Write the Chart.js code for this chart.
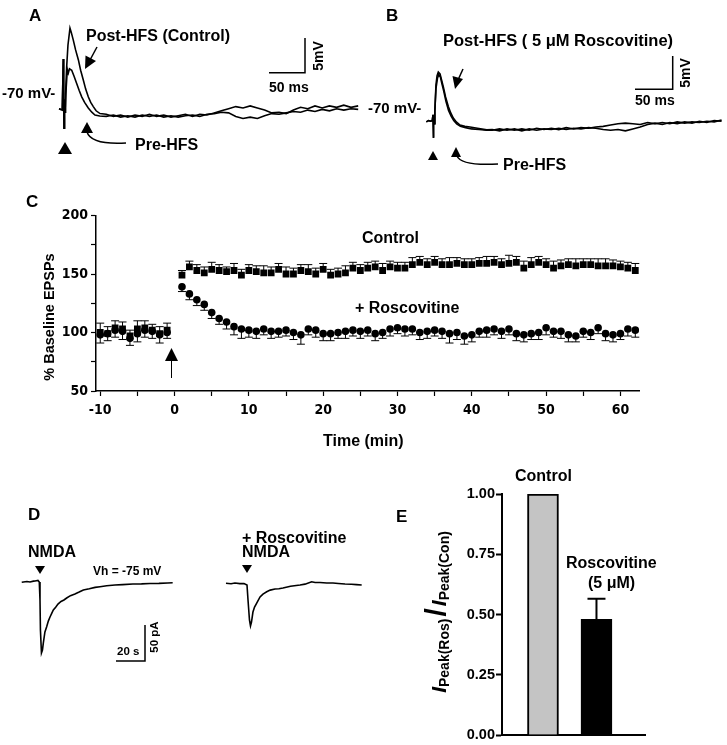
<!DOCTYPE html>
<html>
<head>
<meta charset="utf-8">
<script src="https://cdn.jsdelivr.net/npm/chart.js@4.4.0/dist/chart.umd.min.js"></script>
<style>
body{margin:0;background:#fff;}
#fig{position:relative;width:727px;height:745px;overflow:hidden;background:#fff;}
canvas{position:absolute;}
.t{position:absolute;font-family:"Liberation Sans",Arial,sans-serif;font-weight:bold;white-space:nowrap;line-height:1;color:#000;}
.rot{transform:translate(-50%,-50%) rotate(-90deg);}
svg{position:absolute;left:0;top:0;}
</style>
</head>
<body>
<div id="fig">
<canvas id="trA" width="307" height="125" style="left:55px;top:15px"></canvas>
<canvas id="trB" width="307" height="90" style="left:420px;top:55px"></canvas>
<canvas id="chC" width="660" height="270" style="left:0px;top:180px"></canvas>
<canvas id="trD1" width="165" height="95" style="left:15px;top:570px"></canvas>
<canvas id="trD2" width="150" height="95" style="left:220px;top:570px"></canvas>
<canvas id="chE" width="287" height="285" style="left:440px;top:460px"></canvas>

<svg width="727" height="745">
  <!-- A -->
  <line x1="97" y1="47" x2="90" y2="60" stroke="#000" stroke-width="1.5"/>
  <polygon points="85,69 96,61 85.5,55.5" fill="#000"/>
  <polygon points="58,154 72,154 65,142" fill="#000"/>
  <polygon points="87,122 81,133 93,133" fill="#000"/>
  <path d="M87 132 Q91 145 126 143" fill="none" stroke="#000" stroke-width="1.5"/>
  <path d="M305 38 V72.7 H269" fill="none" stroke="#000" stroke-width="1.5"/>
  <!-- B -->
  <line x1="463" y1="69" x2="458" y2="80" stroke="#000" stroke-width="1.5"/>
  <polygon points="455,89 463,79 452.5,76" fill="#000"/>
  <polygon points="428,160 438,160 433,151" fill="#000"/>
  <polygon points="456,147 451,157 461,157" fill="#000"/>
  <path d="M457 156 Q461 166 498 164" fill="none" stroke="#000" stroke-width="1.5"/>
  <path d="M672.7 56 V89.3 H635" fill="none" stroke="#000" stroke-width="1.5"/>
  <!-- C -->
  <polygon points="171.5,348 165,361 178,361" fill="#000"/>
  <line x1="171.5" y1="360" x2="171.5" y2="378" stroke="#000" stroke-width="1"/>
  <!-- D -->
  <polygon points="35,566 45,566 40,574" fill="#000"/>
  <polygon points="242,565 252,565 247,573" fill="#000"/>
  <path d="M145 625 V661 H116" fill="none" stroke="#000" stroke-width="1.5"/>
</svg>

<div class="t" style="left:29px;top:7px;font-size:17px">A</div>
<div class="t" style="left:86px;top:28px;font-size:16px">Post-HFS (Control)</div>
<div class="t" style="left:2px;top:85px;font-size:15px">-70 mV-</div>
<div class="t" style="left:269px;top:80px;font-size:14px">50 ms</div>
<div class="t rot" style="left:318px;top:56px;font-size:14px">5mV</div>
<div class="t" style="left:135px;top:137px;font-size:16px">Pre-HFS</div>

<div class="t" style="left:386px;top:7px;font-size:17px">B</div>
<div class="t" style="left:443px;top:32px;font-size:16.5px">Post-HFS ( 5 μM Roscovitine)</div>
<div class="t" style="left:368px;top:100px;font-size:15px">-70 mV-</div>
<div class="t" style="left:635px;top:93px;font-size:14px">50 ms</div>
<div class="t rot" style="left:685px;top:73px;font-size:14px">5mV</div>
<div class="t" style="left:503px;top:157px;font-size:16px">Pre-HFS</div>

<div class="t" style="left:26px;top:193px;font-size:17px">C</div>
<div class="t" style="left:362px;top:230px;font-size:16px">Control</div>
<div class="t" style="left:355px;top:300px;font-size:16px">+ Roscovitine</div>
<div class="t" style="left:323px;top:433px;font-size:16px">Time (min)</div>
<div class="t rot" style="left:49px;top:317px;font-size:14.5px">% Baseline EPSPs</div>

<div class="t" style="left:28px;top:506px;font-size:17px">D</div>
<div class="t" style="left:28px;top:544px;font-size:16px">NMDA</div>
<div class="t" style="left:93px;top:565px;font-size:12px">Vh = -75 mV</div>
<div class="t" style="left:117px;top:646px;font-size:11.5px">20 s</div>
<div class="t rot" style="left:155px;top:637px;font-size:11.5px">50 pA</div>
<div class="t" style="left:242px;top:530px;font-size:16px">+ Roscovitine</div>
<div class="t" style="left:242px;top:544px;font-size:16px">NMDA</div>

<div class="t" style="left:396px;top:508px;font-size:17px">E</div>
<div class="t" style="left:515px;top:468px;font-size:16px">Control</div>
<div class="t" style="left:566px;top:555px;font-size:16px">Roscovitine</div>
<div class="t" style="left:588px;top:575px;font-size:16px">(5 μM)</div>
<div class="t rot" style="left:436px;top:612px;font-size:14px"><i style="font-size:21px">I</i><span style="position:relative;top:3px">Peak(Ros)</span><span style="font-size:30px;margin:0 2px">/</span><i style="font-size:21px">I</i><span style="position:relative;top:3px">Peak(Con)</span></div>
</div>

<script>
// ---- panel A traces (ms, mV relative to -70 mV) ----
const aPostT = [-5.5, -3, -1, 0, 0.4, 0.9, 1.4, 2.1, 2.8, 3.6, 5.1, 6.9, 9.7, 11.5, 14.3, 17.5, 21.3, 24.5, 28.2, 31.5, 35.1, 38.5, 42.1, 46, 51.4,
  60, 70, 80, 90, 100, 110, 120, 130, 140, 150, 160, 170, 180, 190, 200, 210, 220, 230, 240, 250, 260, 270, 280, 290, 300, 310, 320, 330, 340, 350, 360, 370, 380, 390, 400, 410];
const aPostV = [0.9, 0.8, 0.7, 0.7, 8.0, 2.0, -1.9, 2.2, 0.4, 3.0, 6.9, 10.0, 12.4, 11.8, 10.7, 9.3, 7.9, 6.4, 5.0, 3.7, 2.6, 1.8, 1.2, 0.6, 0.2,
  0.1, -0.2, 0.0, -0.3, 0.0, -0.2, 0.1, -0.2, 0.0, -0.3, -0.1, 0.1, -0.2, 0.1, 0.0, 0.3, 0.6, 0.9, 1.2, 1.0, 1.3, 1.0, 0.7, 0.3, 0.4, 0.2, 0.7, 1.1, 0.9, 1.3, 1.0, 1.3, 1.1, 1.4, 1.1, 1.3];
const aPreT = [-5.5, -3, -1, 0, 0.4, 0.9, 1.4, 2.1, 2.8, 4.5, 6, 7.4, 9, 12.1, 15.5, 19, 22.5, 26, 30, 35.1, 40, 44.4, 51,
  60, 70, 80, 90, 100, 110, 120, 130, 140, 150, 160, 170, 180, 190, 200, 210, 220, 230, 240, 250, 260, 270, 280, 290, 300, 310, 320, 330, 340, 350, 360, 370, 380, 390, 400, 410];
const aPreV = [0.9, 0.8, 0.7, 0.7, 8.0, 2.0, -1.9, 2.2, 0.4, 4.0, 6.5, 6.0, 6.6, 6.4, 5.5, 4.5, 3.5, 2.6, 1.8, 1.0, 0.4, 0.0, -0.15,
  -0.2, 0.0, -0.3, -0.1, -0.3, 0.0, -0.2, 0.0, -0.3, -0.1, -0.3, -0.1, 0.0, -0.2, 0.1, 0.2, 0.4, 0.3, -0.2, -0.5, -0.3, -0.5, -0.1, 0.2, 0.1, 0.3, 0.5, 0.4, 0.7, 0.5, 0.8, 0.6, 0.9, 0.7, 0.9, 0.8];

// ---- panel B traces ----
const bPostT = [-9, -6, -3.5, -1, 0, 0.4, 1.0, 1.6, 2.5, 4, 5.5, 7.2, 9.5, 11.5, 13.9, 17, 20.7, 24, 27.4, 31.5, 36.5, 43, 50, 60, 72.6,
  80, 90, 100, 110, 120, 130, 140, 150, 160, 170, 180, 190, 200, 210, 220, 230, 240, 250, 260, 270, 280, 290, 300, 310, 320, 330, 340, 350, 360, 370, 380, 390];
const bPostV = [0.8, 1.0, 0.9, 1.0, 1.9, -1.7, 1.4, 0.5, 2.5, 6.6, 8.0, 8.6, 8.3, 7.4, 6.3, 4.7, 3.2, 2.2, 1.4, 0.8, 0.3, 0.1, 0.0, -0.2, -0.45,
  -0.4, -0.6, -0.3, -0.5, -0.3, -0.5, -0.2, -0.4, -0.2, -0.4, -0.1, -0.3, -0.1, -0.2, 0.0, 0.1, 0.3, 0.5, 0.6, 0.5, 0.4, 0.7, 0.5, 0.7, 0.5, 0.8, 0.6, 0.8, 0.7, 0.9, 0.8, 1.1];
const bPreT = [-9, -6, -3.5, -1, 0, 0.4, 1.0, 1.6, 2.5, 4, 6, 7.8, 10, 12, 14.5, 17.5, 21, 24.5, 28, 32, 37, 44, 52, 62, 72.6,
  80, 90, 100, 110, 120, 130, 140, 150, 160, 170, 180, 190, 200, 210, 220, 230, 240, 250, 260, 270, 280, 290, 300, 310, 320, 330, 340, 350, 360, 370, 380, 390];
const bPreV = [0.8, 1.0, 0.9, 1.0, 1.9, -1.7, 1.4, 0.5, 2.5, 6.0, 7.6, 8.2, 7.8, 6.8, 5.6, 4.0, 2.6, 1.7, 1.0, 0.5, 0.1, -0.1, -0.3, -0.4, -0.5,
  -0.5, -0.3, -0.5, -0.3, -0.6, -0.3, -0.5, -0.3, -0.4, -0.2, -0.4, -0.2, -0.3, -0.1, -0.2, -0.4, -0.5, -0.4, -0.6, -0.3, 0.0, 0.4, 0.6, 0.4, 0.7, 0.5, 0.8, 0.6, 0.9, 0.7, 1.0, 0.9];

// ---- panel C: % baseline EPSPs (min) ----
const baseTimes = [-10, -9, -8, -7, -6, -5, -4, -3, -2, -1];
const postTimes = [1, 2, 3, 4, 5, 6, 7, 8, 9, 10, 11, 12, 13, 14, 15, 16, 17, 18, 19, 20, 21, 22, 23, 24, 25, 26, 27, 28, 29, 30,
  31, 32, 33, 34, 35, 36, 37, 38, 39, 40, 41, 42, 43, 44, 45, 46, 47, 48, 49, 50, 51, 52, 53, 54, 55, 56, 57, 58, 59, 60, 61, 62];
const ctlBase = [100, 99, 104, 103, 97, 103, 104, 102, 99, 102];
const ctlPost = [149, 156, 153, 151, 154, 153, 152, 153, 149, 153, 152, 151, 151, 154, 150, 150, 153, 152, 150, 154,
  149, 150, 151, 155, 153, 155, 156, 153, 156, 155, 155, 158, 160, 158, 160, 158, 158, 159, 158,
  158, 159, 159, 160, 158, 159, 160, 155, 158, 160, 158, 155, 157, 158, 157, 158, 158, 157, 157, 157, 156, 155, 153];
const ctlBaseErr = [8, 6, 6, 6, 5, 7, 6, 5, 6, 6];
const ctlPostErr = [4, 5, 5, 5, 6, 5, 4, 6, 5, 5, 5, 6, 5, 5, 6, 5, 5, 6, 5, 5, 5, 5, 6, 5, 5, 5, 5, 6, 5, 5,
  5, 6, 5, 5, 5, 5, 6, 5, 5, 5, 5, 6, 5, 5, 7, 5, 6, 6, 5, 5, 6, 5, 5, 6, 5, 5, 6, 6, 5, 5, 5, 6];
const rosBase = [98, 99, 102, 101, 95, 99, 102, 101, 98, 100];
const rosPost = [139, 133, 128, 124, 117, 112, 109, 105, 103, 102, 101, 103, 101, 101, 102, 100, 98, 103, 102, 99,
  99, 100, 101, 102, 101, 102, 99, 100, 103, 104, 103, 103, 100, 101, 102, 101, 99, 100, 97,
  98, 101, 102, 103, 101, 103, 99, 98, 99, 100, 104, 101, 101, 98, 97, 101, 100, 104, 99, 98, 99, 103, 102];
const rosBaseErr = [7, 6, 6, 7, 6, 7, 6, 6, 7, 5];
const rosPostErr = [4, 5, 5, 5, 5, 5, 6, 7, 8, 6, 6, 5, 6, 5, 5, 6, 8, 5, 6, 6, 6, 5, 6, 5, 6, 5, 6, 5, 6, 5,
  6, 5, 6, 6, 5, 6, 8, 6, 7, 6, 5, 6, 5, 6, 5, 6, 6, 5, 6, 6, 5, 6, 6, 5, 5, 6, 5, 6, 6, 5, 6, 6];
const cYTicks = [50, 75, 100, 125, 150, 175, 200];
const cXTicks = [-10, -5, 0, 5, 10, 15, 20, 25, 30, 35, 40, 45, 50, 55, 60];

// ---- panel D traces (s, pA) ----
const d1T = [-12.6, -9, -6.9, -4.5, -3.4, -1.4, -0.5, 0, 0.3, 1.0, 1.7, 2.3, 3.4, 4.6, 5.8, 6.9, 8, 9.2, 10.8, 12.4,
  14.5, 16.5, 18.4, 21, 24.1, 27, 29.9, 34, 38, 41.4, 46, 51.7, 57, 64.1, 70, 75.9, 82, 88, 91.5];
const d1V = [-0.4, 0.6, 0, 1.2, 1.4, 2.1, 0, -25, -66.7, -98.6, -94.4, -84.7, -69.4, -62.1, -54, -48.6, -44, -38.9, -35, -30.6,
  -27, -25, -22.2, -19, -16.7, -14, -11.1, -9.5, -7.5, -6.5, -5.2, -4.2, -3.6, -2.8, -2.6, -2.1, -1.9, -1.3, -1.0];
const d2T = [-14.5, -11, -8.3, -5, -2.1, 0, 0.7, 1.7, 2.4, 3.1, 4.1, 5.2, 6.7, 9, 11, 13.6, 16, 19.3, 22, 24.8,
  30, 36.6, 40, 44.6, 47, 50.3, 55, 59.3, 63, 67.6, 72, 75.5, 79.1];
const d2V = [0, -0.7, 0.4, -0.4, -0.3, -2.4, -23.2, -51, -59.3, -53.8, -39.9, -33, -27.4, -19, -15, -11.7, -9.5, -7.9, -7.5, -6.5,
  -4, -2.4, -1.2, 2.2, 1.2, 1.1, 0.5, 0.4, -0.3, -1, -1.4, -1.8, -2.4];

// ---- panel E: normalised peak current ----
const eGroups = ['Control', 'Roscovitine (5 μM)'];
const eValues = [1.0, 0.48];
const eErr = [0, 0.085];
const eYTicks = [0, 0.25, 0.5, 0.75, 1.0];

const narrow = '"Liberation Sans Narrow", "DejaVu Sans Condensed", sans-serif';
const sans = '"Liberation Sans", Arial, sans-serif';

// error bars drawn from each dataset's errUp / errDown arrays
const errorBars = {
  id: 'errorBars',
  afterDatasetsDraw(chart) {
    const ctx = chart.ctx;
    const ys = chart.scales.y;
    chart.data.datasets.forEach((ds, di) => {
      if (!ds.errUp && !ds.errDown) return;
      const meta = chart.getDatasetMeta(di);
      ctx.save();
      ctx.strokeStyle = '#000';
      ctx.lineWidth = ds.errWidth || 1;
      meta.data.forEach((el, i) => {
        const v = ds.data[i].y;
        const half = (ds.capWidth || 8) / 2;
        [[ds.errUp, 1], [ds.errDown, -1]].forEach(([arr, sgn]) => {
          if (!arr || !arr[i]) return;
          const y0 = ys.getPixelForValue(v);
          const y1 = ys.getPixelForValue(v + sgn * arr[i]);
          ctx.beginPath();
          ctx.moveTo(el.x, y0);
          ctx.lineTo(el.x, y1);
          ctx.moveTo(el.x - half, y1);
          ctx.lineTo(el.x + half, y1);
          ctx.stroke();
        });
      });
      ctx.restore();
    });
  }
};

function pts(xs, ys) {
  return xs.map((x, i) => ({ x: x, y: ys[i] }));
}

function trace(id, sets, xr, yr) {
  new Chart(document.getElementById(id), {
    type: 'scatter',
    data: {
      datasets: sets.map(s => ({
        data: pts(s[0], s[1]),
        showLine: true,
        borderColor: '#000',
        borderWidth: 1.6,
        pointRadius: 0,
        tension: 0
      }))
    },
    options: {
      responsive: false, animation: false, events: [],
      plugins: { legend: { display: false }, tooltip: { enabled: false } },
      scales: {
        x: { type: 'linear', display: false, min: xr[0], max: xr[1] },
        y: { display: false, min: yr[0], max: yr[1] }
      }
    }
  });
}

trace('trA', [[aPostT, aPostV], [aPreT, aPreV]], [-11.11, 415.3], [-3.571, 14.286]);
trace('trB', [[bPostT, bPostV], [bPreT, bPreV]], [-17.57, 397.3], [-2.8125, 11.25]);
trace('trD1', [[d1T, d1V]], [-17.24, 96.55], [-115.3, 16.67]);
trace('trD2', [[d2T, d2V]], [-18.62, 84.83], [-113.5, 18.47]);

// panel C
new Chart(document.getElementById('chC'), {
  type: 'scatter',
  data: {
    datasets: [
      {
        label: 'Control',
        data: pts(baseTimes.concat(postTimes), ctlBase.concat(ctlPost)),
        errUp: ctlBaseErr.concat(ctlPostErr),
        pointStyle: 'rect', pointRadius: 4.8,
        backgroundColor: '#000', borderColor: '#000', borderWidth: 0
      },
      {
        label: '+ Roscovitine',
        data: pts(baseTimes.concat(postTimes), rosBase.concat(rosPost)),
        errDown: rosBaseErr.concat(rosPostErr),
        pointStyle: 'circle', pointRadius: 3.8,
        backgroundColor: '#000', borderColor: '#000', borderWidth: 0
      }
    ]
  },
  options: {
    responsive: false, animation: false, events: [],
    layout: { padding: { top: 35.5, right: 21, left: 0, bottom: 0 } },
    plugins: { legend: { display: false }, tooltip: { enabled: false } },
    scales: {
      x: {
        type: 'linear', min: -10.57, max: 62.5,
        afterBuildTicks: s => { s.ticks = cXTicks.map(v => ({ value: v })); },
        afterFit: s => { s.height = 59; },
        ticks: {
          autoSkip: false, maxRotation: 0, padding: 6, color: '#000',
          font: { family: narrow, weight: 'bold', size: 14 },
          callback: v => (v % 10 === 0 ? String(v) : '')
        },
        grid: { drawOnChartArea: false, tickLength: 5, tickColor: '#000', tickWidth: 1.2 },
        border: { color: '#000', width: 1.5 }
      },
      y: {
        min: 50, max: 200,
        afterBuildTicks: s => { s.ticks = cYTicks.map(v => ({ value: v })); },
        afterFit: s => { s.width = 96; },
        ticks: {
          padding: 3, color: '#000',
          font: { family: narrow, weight: 'bold', size: 14 },
          callback: v => (v % 50 === 0 ? String(v) : '')
        },
        grid: { drawOnChartArea: false, tickLength: 5, tickColor: '#000', tickWidth: 1.2 },
        border: { color: '#000', width: 1.5 }
      }
    }
  },
  plugins: [errorBars]
});

// panel E
new Chart(document.getElementById('chE'), {
  type: 'bar',
  data: {
    datasets: [{
      label: 'IPeak',
      data: eValues.map((v, i) => ({ x: i + 1, y: v, g: eGroups[i] })),
      errUp: eErr,
      capWidth: 18, errWidth: 2,
      backgroundColor: ['#c4c4c4', '#000'],
      borderColor: '#000', borderWidth: 2,
      barThickness: 31
    }]
  },
  options: {
    responsive: false, animation: false, events: [],
    layout: { padding: { top: 34, right: 82, left: 0, bottom: 0 } },
    plugins: { legend: { display: false }, tooltip: { enabled: false } },
    scales: {
      x: {
        type: 'linear', min: 0.234, max: 2.907, offset: false,
        afterFit: s => { s.height = 10; },
        ticks: { display: false },
        grid: { drawOnChartArea: false, drawTicks: false, tickLength: 0 },
        border: { color: '#000', width: 2 }
      },
      y: {
        min: 0, max: 1,
        afterBuildTicks: s => { s.ticks = eYTicks.map(v => ({ value: v })); },
        afterFit: s => { s.width = 62; },
        ticks: {
          padding: 1, color: '#000',
          font: { family: sans, weight: 'bold', size: 14.5 },
          callback: v => Number(v).toFixed(2)
        },
        grid: { drawOnChartArea: false, tickLength: 6, tickColor: '#000', tickWidth: 2 },
        border: { color: '#000', width: 2 }
      }
    }
  },
  plugins: [errorBars]
});
</script>
</body>
</html>
